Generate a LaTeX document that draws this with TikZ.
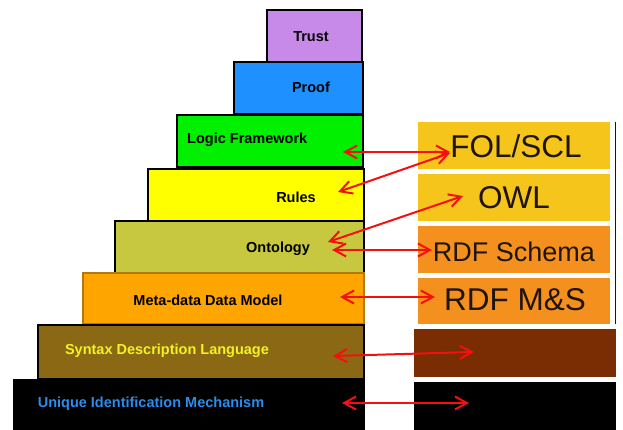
\documentclass[tikz,border=0pt]{standalone}
\usepackage{fontspec}
\setmainfont{Liberation Sans}
\usetikzlibrary{arrows.meta}
\definecolor{trustc}{HTML}{C88AE8}
\definecolor{proofc}{HTML}{1E90FF}
\definecolor{logicc}{HTML}{00F000}
\definecolor{rulesc}{HTML}{FFFF00}
\definecolor{ontoc}{HTML}{C8C840}
\definecolor{metac}{HTML}{FFA500}
\definecolor{metaborder}{HTML}{B07A10}
\definecolor{syntaxc}{HTML}{8B6914}
\definecolor{bluetext}{HTML}{2A8CEC}
\definecolor{yellowtext}{HTML}{F2F224}
\definecolor{goldc}{HTML}{F6C51C}
\definecolor{orangec}{HTML}{F4901E}
\definecolor{brownc}{HTML}{7A2D02}
\definecolor{darktext}{HTML}{1E1408}
\definecolor{arrowred}{HTML}{F51010}
\tikzset{
  layer/.style={draw=black, line width=1.8pt, anchor=north west, inner sep=0pt, minimum width=#1},
  rbox/.style={anchor=north west, inner sep=0pt, minimum width=192pt, minimum height=47pt},
  lbl/.style={font=\fontsize{14.5}{16}\selectfont\bfseries, text=black, inner sep=0pt},
  rlbl/.style={font=\fontsize{31.5}{34}\selectfont, text=darktext, inner sep=0pt},
  link/.style={draw=arrowred, line width=2pt, {Straight Barb[length=12pt,width=13pt]}-{Straight Barb[length=12pt,width=13pt]}}
}
\begin{document}
\begin{tikzpicture}[x=1pt,y=-1pt]
\useasboundingbox (0,0) rectangle (623,430);
% left stack
\node[layer=95pt, fill=trustc, minimum height=52pt] (trust) at (266,9) {};
\node[layer=129pt, fill=proofc, minimum height=52pt] (proof) at (233,61) {};
\node[layer=186pt, fill=logicc, minimum height=52pt] (logic) at (176,114) {};
\node[layer=216pt, fill=rulesc, minimum height=52pt] (rules) at (147,168) {};
\node[layer=249pt, fill=ontoc, minimum height=52pt] (onto) at (114,220) {};
\node[layer=281pt, fill=metac, draw=metaborder, minimum height=51pt] (meta) at (82,272) {};
\node[layer=326pt, fill=syntaxc, minimum height=54pt] (syntax) at (37,324) {};
\node[anchor=north west, fill=black, inner sep=0pt, minimum width=352pt, minimum height=51pt] (unique) at (13,379) {};
% left labels
\node[lbl] (ttrust) at (311,37) {Trust};
\node[lbl] (tproof) at (311,87) {Proof};
\node[lbl, anchor=west] (tlogic) at (187,140) {Logic Framework};
\node[lbl] (trules) at (296,197) {Rules};
\node[lbl] (tonto) at (278,249) {Ontology};
\node[lbl] (tmeta) at (208,300) {Meta-data Data Model};
\node[lbl, text=yellowtext] (tsyntax) at (167,351) {Syntax Description Language};
\node[lbl, text=bluetext] (tunique) at (151,404) {Unique Identification Mechanism};
% right stack
\node[rbox, fill=goldc] (fol) at (418,122) {};
\node[rbox, fill=goldc] (owl) at (418,174) {};
\node[rbox, fill=orangec] (rdfs) at (418,226) {};
\node[rbox, fill=orangec, minimum height=46pt] (rdfms) at (418,278) {};
\draw[line width=1pt, draw=darktext] (fol.north east) ++(5pt,0) coordinate (rline1) -- (rdfms.south east -| rline1);
\node[anchor=north west, fill=brownc, inner sep=0pt, minimum width=202pt, minimum height=48pt] (brown) at (414,329) {};
\node[anchor=north west, fill=black, inner sep=0pt, minimum width=202pt, minimum height=48pt] (blackbox) at (414,382) {};
\node[rlbl] (tfol) at (516,146) {FOL/SCL};
\node[rlbl] (towl) at (514,198) {OWL};
\node[rlbl, font=\fontsize{27}{30}\selectfont] (trdfs) at (514,252) {RDF Schema};
\node[rlbl] (trdfms) at (515,300) {RDF M\&S};
% arrow ends
\coordinate (a1l) at (343,152); \coordinate (a1r) at (450,152);
\coordinate (a2l) at (338,192); \coordinate (a2r) at (450,153);
\coordinate (a3l) at (328,242); \coordinate (a3r) at (463,196);
\coordinate (a4l) at (332,250); \coordinate (a4r) at (432,250);
\coordinate (a5l) at (340,297); \coordinate (a5r) at (435,297);
\coordinate (a6l) at (333,356); \coordinate (a6r) at (474,352);
\coordinate (a7l) at (342,403); \coordinate (a7r) at (469,403);
\draw[link] (a1l) -- (a1r);
\draw[link] (a2l) -- (a2r);
\draw[link] (a3l) -- (a3r);
\draw[link] (a4l) -- (a4r);
\draw[link] (a5l) -- (a5r);
\draw[link] (a6l) -- (a6r);
\draw[link] (a7l) -- (a7r);
\end{tikzpicture}
\end{document}
